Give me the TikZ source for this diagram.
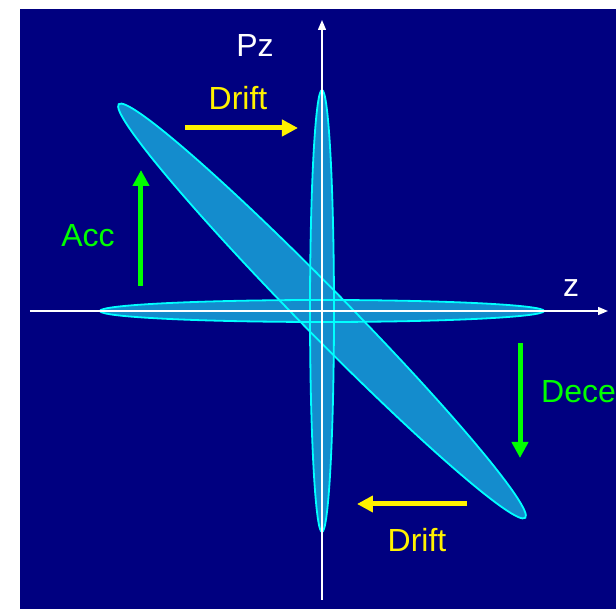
\documentclass[tikz,border=0pt]{standalone}
\usepackage{fontspec}
\setmainfont{Liberation Sans}
\usepackage{tikz}
\usetikzlibrary{arrows.meta}
\definecolor{bgblue}{RGB}{0,0,128}
\definecolor{beamfill}{RGB}{20,140,205}
\definecolor{beamedge}{RGB}{0,255,255}

\begin{document}
\begin{tikzpicture}[x=1pt,y=1pt,
  lbl/.style={font=\fontsize{32}{38}\selectfont,inner sep=0pt},
  ax/.style={white,line width=1.4pt,-{Triangle[length=10pt,width=8pt]}},
  move/.style={line width=5pt,-{Triangle[length=16pt,width=16pt]}}]
\useasboundingbox (-322,-298) rectangle (294,311);
\fill[bgblue] (-302,-298) rectangle (294,302);
% phase space ellipses
\fill[beamfill] (0,0) ellipse [x radius=222,y radius=11];
\fill[beamfill] (0,0) ellipse [x radius=12,y radius=221];
\fill[beamfill,rotate=-45.5] (0,0) ellipse [x radius=290,y radius=23];
\draw[beamedge,line width=1.8pt] (0,0) ellipse [x radius=222,y radius=11];
\draw[beamedge,line width=1.8pt] (0,0) ellipse [x radius=12,y radius=221];
\draw[beamedge,line width=1.8pt,rotate=-45.5] (0,0) ellipse [x radius=290,y radius=23];
% axes
\coordinate (zl) at (-292,0);
\coordinate (zr) at (286,0);
\coordinate (pb) at (0,-289);
\coordinate (pt) at (0,291);
\draw[ax] (zl)--(zr);
\draw[ax] (pb)--(pt);
\node[lbl,white] (zlab) at (249,23) {z};
\node[lbl,white] (plab) at (-67,265) {Pz};
% drift and rf kicks
\coordinate (d1a) at (-137,183);
\coordinate (d1b) at (-24,183);
\coordinate (d2a) at (145,-193);
\coordinate (d2b) at (35,-193);
\coordinate (acca) at (-181,25);
\coordinate (accb) at (-181,141);
\coordinate (deca) at (198,-32);
\coordinate (decb) at (198,-147);
\draw[move,yellow] (d1a)--(d1b);
\draw[move,yellow] (d2a)--(d2b);
\draw[move,green] (acca)--(accb);
\draw[move,green] (deca)--(decb);
\node[lbl,yellow] (drift1) at (-84,213) {Drift};
\node[lbl,yellow] (drift2) at (95,-229) {Drift};
\node[lbl,green] (acc) at (-234,75) {Acc};
\node[lbl,green,anchor=west] (dec) at (219,-81) {Dece};
\end{tikzpicture}
\end{document}
